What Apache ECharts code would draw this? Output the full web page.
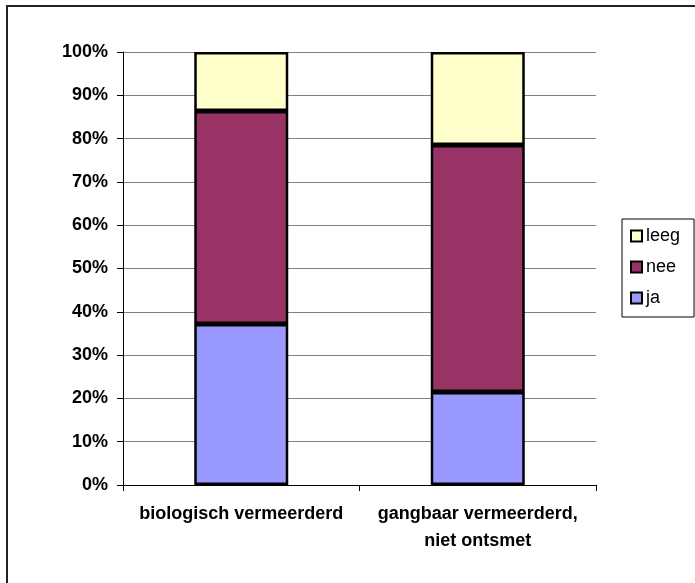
<!DOCTYPE html>
<html>
<head>
<meta charset="utf-8">
<script src="https://cdn.jsdelivr.net/npm/echarts@6/dist/echarts.min.js"></script>
<style>
  html, body { margin: 0; padding: 0; background: #fff; }
  #chart { width: 695px; height: 583px; }
</style>
</head>
<body>
<div id="chart"></div>
<script>
// categories and percentages
const categories = ['biologisch vermeerderd', 'gangbaar vermeerderd,\nniet ontsmet'];
const ja = [37.2, 21.5];
const nee = [49.2, 57.0];
const leeg = [13.6, 21.5];

const chart = echarts.init(document.getElementById('chart'));

const barStyle = (color) => ({ color: color, borderColor: '#000', borderWidth: 2.5 });

const option = {
    animation: false,
    textStyle: { fontFamily: 'Liberation Sans, Arial, sans-serif' },
    graphic: [{
        type: 'rect',
        shape: { x: 7, y: 6, width: 700, height: 600 },
        style: { fill: 'none', stroke: '#222', lineWidth: 2 },
        silent: true
    }],
    grid: { left: 123, right: 99, top: 52, bottom: 98 },
    legend: {
        orient: 'vertical',
        left: 622,
        top: 219,
        data: ['leeg', 'nee', 'ja'],
        icon: 'rect',
        itemWidth: 11,
        itemHeight: 11,
        itemGap: 13,
        padding: [8, 14, 10, 8],
        borderColor: '#000',
        borderWidth: 1,
        textStyle: { fontSize: 18, color: '#000', padding: [0, 0, 0, -1] }
    },
    xAxis: {
        type: 'category',
        data: categories,
        axisLine: { lineStyle: { color: '#000', width: 1 } },
        axisTick: { show: true, interval: 0, length: 6, lineStyle: { color: '#000' } },
        axisLabel: {
            interval: 0, hideOverlap: false,
            color: '#000', fontWeight: 'bold', fontSize: 18, margin: 16, lineHeight: 27
        }
    },
    yAxis: {
        type: 'value',
        min: 0,
        max: 100,
        interval: 10,
        axisLine: { show: true, lineStyle: { color: '#000', width: 1 } },
        axisTick: { show: true, length: 6, lineStyle: { color: '#000' } },
        splitLine: { lineStyle: { color: '#808080', width: 1 } },
        axisLabel: {
            formatter: '{value}%', color: '#000', fontWeight: 'bold', fontSize: 18, margin: 15
        }
    },
    series: [
        { name: 'ja', type: 'bar', stack: 'total', data: ja, barWidth: 94, itemStyle: barStyle('#9999FF') },
        { name: 'nee', type: 'bar', stack: 'total', data: nee, barWidth: 94, itemStyle: barStyle('#993366') },
        { name: 'leeg', type: 'bar', stack: 'total', data: leeg, barWidth: 94, itemStyle: barStyle('#FFFFCC') }
    ]
};

chart.setOption(option);
</script>
</body>
</html>
